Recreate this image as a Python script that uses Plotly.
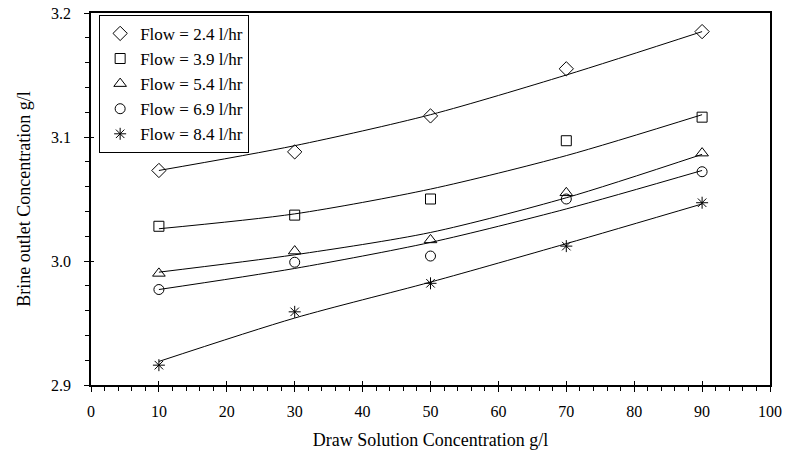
import plotly.graph_objects as go

draw_conc = [10, 30, 50, 70, 90]

flow_labels = ["Flow = 2.4 l/hr", "Flow = 3.9 l/hr", "Flow = 5.4 l/hr",
               "Flow = 6.9 l/hr", "Flow = 8.4 l/hr"]

# measured brine outlet concentration (g/l)
meas_24 = [3.073, 3.088, 3.117, 3.155, 3.185]
meas_39 = [3.028, 3.037, 3.050, 3.097, 3.116]
meas_54 = [2.990, 3.008, 3.017, 3.055, 3.087]
meas_69 = [2.977, 2.999, 3.004, 3.050, 3.072]
meas_84 = [2.916, 2.959, 2.982, 3.012, 3.047]

# fitted trend curves read at the same concentrations
fit_24 = [3.073, 3.093, 3.118, 3.150, 3.185]
fit_39 = [3.026, 3.038, 3.058, 3.085, 3.118]
fit_54 = [2.991, 3.005, 3.023, 3.051, 3.086]
fit_69 = [2.977, 2.994, 3.015, 3.042, 3.073]
fit_84 = [2.919, 2.954, 2.983, 3.014, 3.046]

measured = [meas_24, meas_39, meas_54, meas_69, meas_84]
fits = [fit_24, fit_39, fit_54, fit_69, fit_84]
symbols = ["diamond-open", "square-open", "triangle-up-open", "circle-open", "asterisk-open"]
sizes = [11, 10, 11, 10, 10]

FONT = "Liberation Serif, Times New Roman, serif"

fig = go.Figure()
for fy in fits:
    fig.add_trace(go.Scatter(x=draw_conc, y=fy, mode="lines",
                             line=dict(color="black", width=1, shape="spline", smoothing=0.8),
                             showlegend=False, hoverinfo="skip"))
for name, my, sym, sz in zip(flow_labels, measured, symbols, sizes):
    fig.add_trace(go.Scatter(x=draw_conc, y=my, mode="markers", name=name,
                             marker=dict(symbol=sym, size=sz, color="black", line=dict(color="black", width=1))))

# invisible trace to carry the overlay axes (inside tick marks)
fig.add_trace(go.Scatter(x=[0], y=[2.9], xaxis="x2", yaxis="y2", mode="markers",
                         marker=dict(opacity=0), showlegend=False, hoverinfo="skip"))

axis_common = dict(showgrid=False, zeroline=False, linecolor="black", linewidth=1.5,
                   tickcolor="black", mirror=True, automargin=False, ticklabeloverflow="allow")

fig.update_layout(
    width=790, height=459,
    margin=dict(l=91, r=20, t=13, b=74),
    paper_bgcolor="white", plot_bgcolor="white",
    font=dict(family=FONT, color="black", size=16),
    xaxis=dict(range=[0, 100], tickmode="linear", tick0=0, dtick=10, ticks="outside", ticklen=5,
               tickwidth=1, minor=dict(dtick=2, ticks="outside", ticklen=4, tickcolor="black"),
               ticklabelstandoff=6,
               title=dict(text="Draw Solution Concentration g/l", font=dict(size=18), standoff=14),
               tickfont=dict(size=16), **axis_common),
    yaxis=dict(range=[2.9, 3.2], tickmode="linear", tick0=2.9, dtick=0.1, tickformat=".1f",
               ticks="outside", ticklen=5, tickwidth=1,
               minor=dict(dtick=0.02, ticks="outside", ticklen=4, tickcolor="black"),
               ticklabelstandoff=10,
               title=dict(text="Brine outlet Concentration g/l", font=dict(size=18), standoff=16),
               tickfont=dict(size=16), **axis_common),
    xaxis2=dict(range=[0, 100], overlaying="x", anchor="y2", side="bottom", tickmode="linear", tick0=0, dtick=10,
                ticks="inside", ticklen=4, tickcolor="black", showticklabels=False, showgrid=False,
                zeroline=False, showline=False, automargin=False),
    yaxis2=dict(range=[2.9, 3.2], overlaying="y", anchor="x2", side="left", tickmode="linear", tick0=2.9, dtick=0.1,
                ticks="inside", ticklen=3, tickcolor="black", showticklabels=False, showgrid=False,
                zeroline=False, showline=False, automargin=False),
    legend=dict(x=0.012, y=0.995, xanchor="left", yanchor="top", bordercolor="black", borderwidth=1,
                bgcolor="white", font=dict(size=17, family=FONT), itemwidth=30, tracegroupgap=0),
    showlegend=True,
)

fig.write_html("out.html", config={"displayModeBar": False},
               post_script="document.body.style.margin='0';")
